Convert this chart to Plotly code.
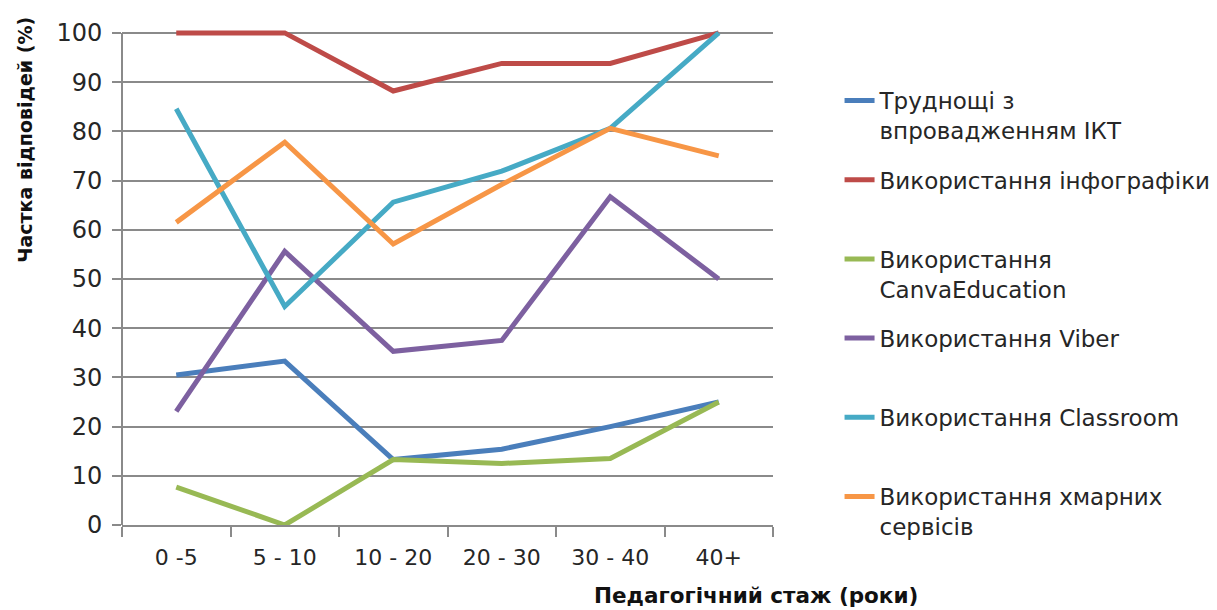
import plotly.graph_objects as go

categories = ["0 -5", "5 - 10", "10 - 20", "20 - 30", "30 - 40", "40+"]

ikt_difficulties = [30.5, 33.3, 13.3, 15.4, 20.0, 25.0]
infographics = [100.0, 100.0, 88.2, 93.8, 93.8, 100.0]
canva_education = [7.7, 0.0, 13.3, 12.5, 13.5, 25.0]
viber = [23.1, 55.6, 35.3, 37.5, 66.7, 50.0]
classroom = [84.6, 44.4, 65.6, 71.9, 80.6, 100.0]
cloud_services = [61.5, 77.8, 57.1, 69.2, 80.6, 75.0]

series_names = [
    "Труднощі з<br>впровадженням ІКТ",
    "Використання інфографіки<br> ",
    "Використання<br>CanvaEducation",
    "Використання Viber<br> ",
    "Використання Classroom<br> ",
    "Використання хмарних<br>сервісів",
]
series_values = [ikt_difficulties, infographics, canva_education, viber, classroom, cloud_services]
series_colors = ["#4A7EBB", "#BE4B48", "#98B954", "#7D60A0", "#46AAC5", "#F79646"]

fig = go.Figure()
for i, (name, vals, col) in enumerate(zip(series_names, series_values, series_colors)):
    fig.add_trace(go.Scatter(
        x=categories, y=vals, mode="lines", name=name, legendgroup=f"g{i}",
        line=dict(color=col, width=5),
    ))

grid = "#8a8a8a"
txt = "#262626"
fig.update_layout(
    width=1209, height=602, autosize=False,
    margin=dict(l=114, r=444, t=20, b=85, autoexpand=False),
    plot_bgcolor="white", paper_bgcolor="white",
    font=dict(family="DejaVu Sans", color=txt),
    showlegend=True,
    legend=dict(
        xref="container", yref="container",
        x=0.6878, xanchor="left", y=0.882, yanchor="top",
        font=dict(size=23, family="DejaVu Sans", color=txt),
        valign="top", tracegroupgap=16.4, traceorder="grouped",
        bgcolor="rgba(0,0,0,0)", maxheight=580,
    ),
    xaxis=dict(
        type="category", range=[-0.5, 5.5],
        tickson="boundaries", ticks="outside", ticklen=10, tickwidth=2, tickcolor=grid,
        showline=True, linecolor=grid, linewidth=2, showgrid=False,
        tickfont=dict(size=22, color=txt), ticklabelstandoff=12,
    ),
    yaxis=dict(
        range=[0, 101], tickvals=list(range(0, 101, 10)),
        showgrid=True, gridcolor=grid, gridwidth=2,
        ticks="outside", ticklen=9, tickwidth=2, tickcolor=grid,
        showline=False, zeroline=False,
        tickfont=dict(size=24, color=txt), ticklabelstandoff=5,
    ),
    shapes=[
        dict(type="line", xref="paper", x0=0, x1=0, yref="y", y0=0, y1=100,
             line=dict(color=grid, width=2), layer="below"),
    ],
    annotations=[
        dict(text="<b>Педагогічний стаж (роки)</b>", xref="paper", yref="paper",
             x=0.974, y=-0.141, xanchor="center", yanchor="middle", showarrow=False,
             font=dict(size=21.5, family="DejaVu Sans", color="#111111")),
        dict(text="<b>Частка відповідей (%)</b>", xref="paper", yref="paper",
             x=-0.149, y=0.775, xanchor="center", yanchor="middle", showarrow=False,
             textangle=-90, font=dict(size=19, family="DejaVu Sans", color="#111111")),
    ],
)

fig.write_html("out.html")
